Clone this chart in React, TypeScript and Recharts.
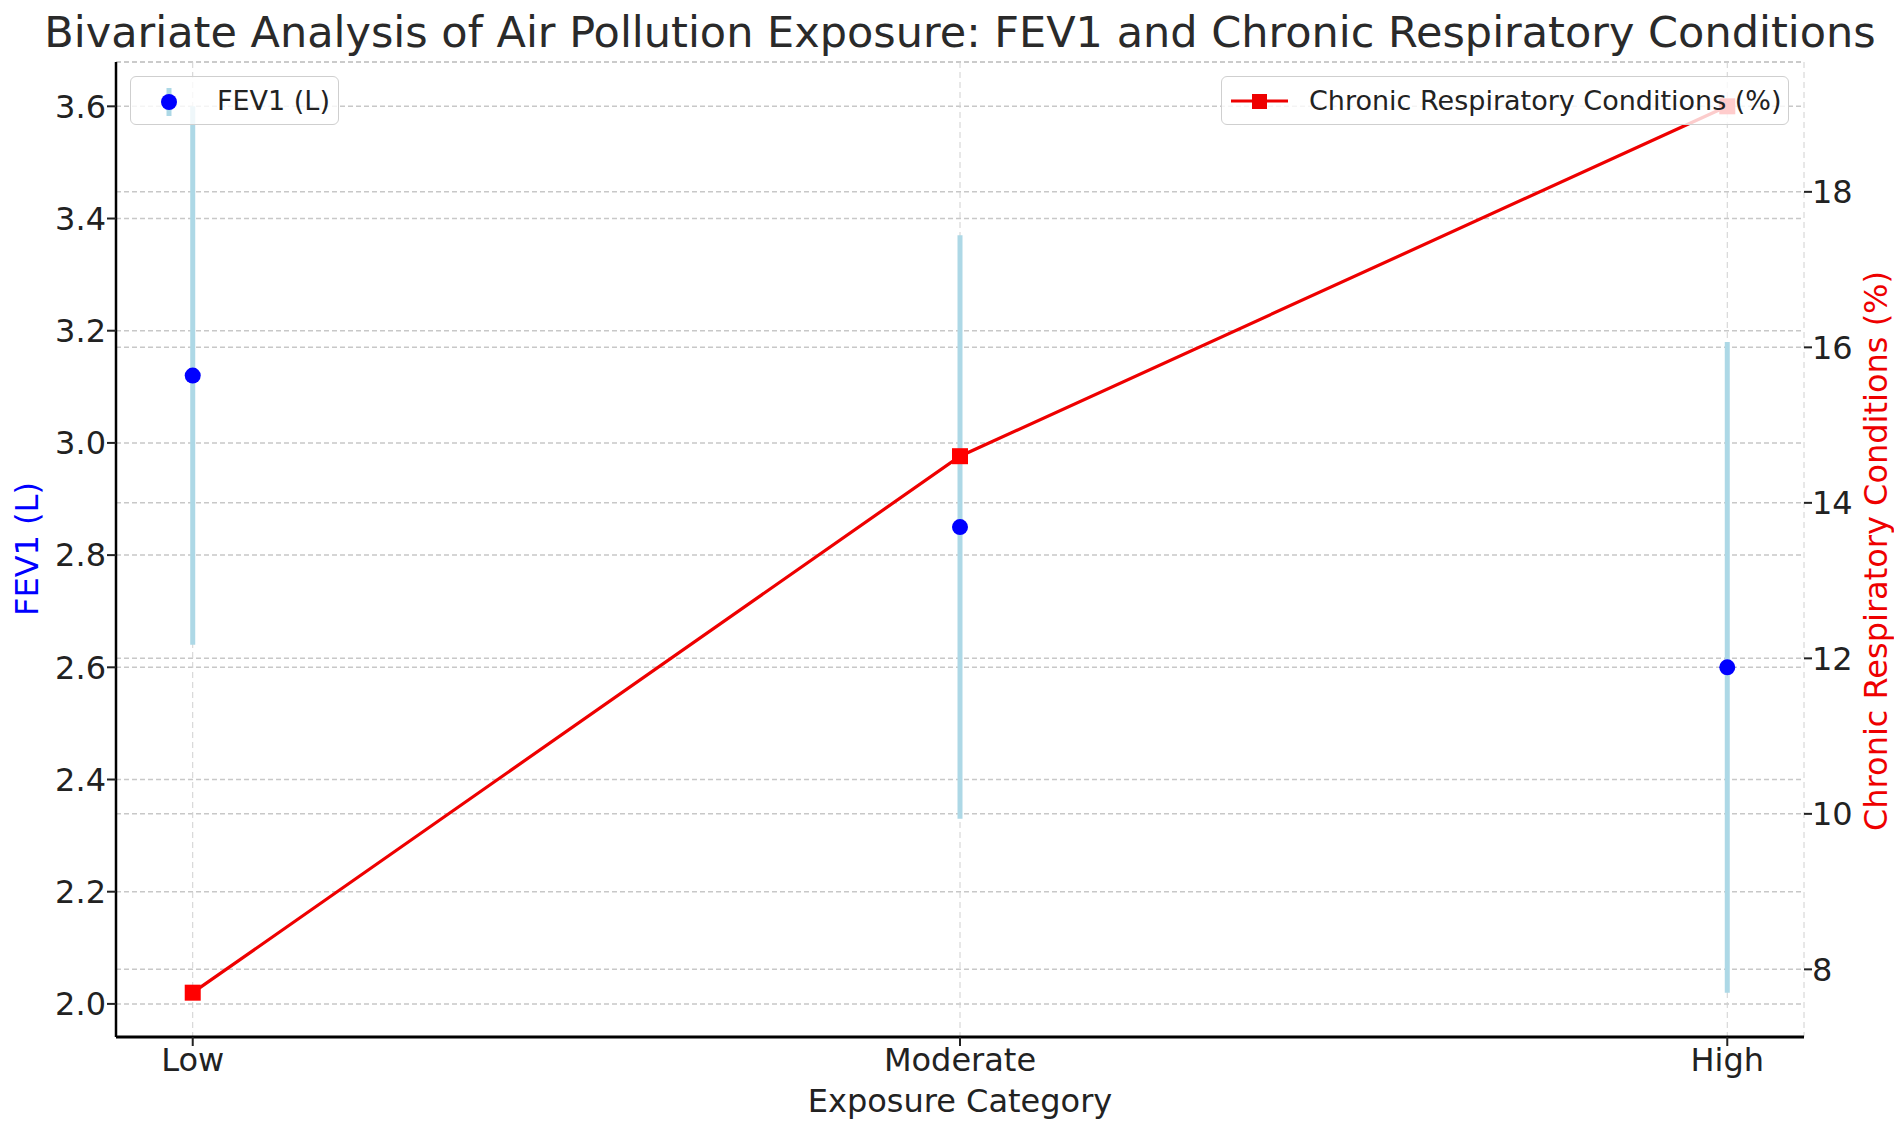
import React from 'react';
import {
  ComposedChart,
  XAxis,
  YAxis,
  CartesianGrid,
  Line,
  Scatter,
  ErrorBar,
} from 'recharts';

const categories = ['Low', 'Moderate', 'High'];
const fev1Values = [3.12, 2.85, 2.6];
const fev1Errors = [0.48, 0.52, 0.58];
const chronicValues = [7.7, 14.6, 19.1];
const fevTicks = [2.0, 2.2, 2.4, 2.6, 2.8, 3.0, 3.2, 3.4, 3.6];
const chronicTicks = [8, 10, 12, 14, 16, 18];
const categoryTicks = [0, 1, 2];

const data = categories.map((name, i) => ({
  x: i,
  name,
  fev1: fev1Values[i],
  err: fev1Errors[i],
  chronic: chronicValues[i],
}));

const W = 1894;
const H = 1123;
const FONT = '"DejaVu Sans", sans-serif';
const TEXT = '#222222';

const SquareDot = (props: any) => {
  const { cx, cy, index } = props;
  if (cx == null || cy == null) return null;
  return <rect key={`sq-${index}`} x={cx - 8} y={cy - 8} width={16} height={16} fill="#ff0000" />;
};

const CircleShape = (props: any) => {
  const { cx, cy } = props;
  if (cx == null || cy == null) return null;
  return <circle cx={cx} cy={cy} r={8} fill="#0000ff" />;
};

const legendBox: React.CSSProperties = {
  position: 'absolute',
  boxSizing: 'border-box',
  border: '1.5px solid #cfcfcf',
  borderRadius: 6,
  background: 'rgba(255,255,255,0.8)',
  fontFamily: FONT,
  fontSize: 27,
  color: TEXT,
  display: 'flex',
  alignItems: 'center',
};

export default function App() {
  return (
    <div style={{ position: 'relative', width: W, height: H, background: '#fff' }}>
      <ComposedChart
        width={W}
        height={H}
        data={data}
        margin={{ top: 54, right: 0, bottom: 0, left: 0 }}
      >
        <CartesianGrid
          yAxisId="left"
          vertical={false}
          stroke="#c8c8c8"
          strokeDasharray="5 3"
          strokeWidth={1.5}
        />
        <CartesianGrid
          yAxisId="right"
          vertical={false}
          stroke="#c8c8c8"
          strokeDasharray="5 3"
          strokeWidth={1.5}
        />
        <CartesianGrid
          yAxisId="left"
          horizontal={false}
          stroke="#d0d0d0"
          strokeDasharray="6 4"
          strokeWidth={1}
        />
        <XAxis
          dataKey="x"
          type="number"
          domain={[-0.1, 2.1]}
          ticks={categoryTicks}
          allowDataOverflow
          tickFormatter={(v: number) => categories[v] ?? ''}
          height={94}
          axisLine={{ stroke: '#000', strokeWidth: 3 }}
          tickLine={{ stroke: TEXT, strokeWidth: 2 }}
          tickSize={9}
          tickMargin={2}
          tick={{ fill: TEXT, fontSize: 32, fontFamily: FONT }}
        />
        <YAxis
          yAxisId="left"
          orientation="left"
          type="number"
          domain={[1.941, 3.679]}
          ticks={fevTicks}
          allowDataOverflow
          width={108}
          tickFormatter={(v: number) => v.toFixed(1)}
          axisLine={{ stroke: '#000', strokeWidth: 2.5 }}
          tickLine={{ stroke: TEXT, strokeWidth: 2 }}
          tickSize={9}
          tickMargin={1}
          tick={{ fill: TEXT, fontSize: 32, fontFamily: FONT }}
        />
        <YAxis
          yAxisId="right"
          orientation="right"
          type="number"
          domain={[7.13, 19.67]}
          ticks={chronicTicks}
          allowDataOverflow
          width={98}
          axisLine={false}
          tickLine={{ stroke: TEXT, strokeWidth: 2 }}
          tickSize={8}
          tickMargin={0}
          tick={{ fill: TEXT, fontSize: 32, fontFamily: FONT }}
        />
        <Scatter
          yAxisId="left"
          dataKey="fev1"
          fill="#0000ff"
          shape={CircleShape}
          isAnimationActive={false}
        >
          <ErrorBar
            dataKey="err"
            direction="y"
            width={0}
            stroke="#add8e6"
            strokeWidth={5}
            isAnimationActive={false}
          />
        </Scatter>
        <Line
          yAxisId="right"
          dataKey="chronic"
          stroke="#ee0000"
          strokeWidth={3.2}
          dot={SquareDot}
          activeDot={false}
          isAnimationActive={false}
        />
      </ComposedChart>

      <svg
        width={W}
        height={H}
        style={{ position: 'absolute', left: 0, top: 0, pointerEvents: 'none' }}
      >
        <text x={952} y={39} textAnchor="middle" fontFamily={FONT} fontSize={43} fill="#2a2a2a">
          Bivariate Analysis of Air Pollution Exposure: FEV1 and Chronic Respiratory Conditions
        </text>
        <text x={952} y={1104} textAnchor="middle" fontFamily={FONT} fontSize={32} fill={TEXT}>
          Exposure Category
        </text>
        <text
          x={30}
          y={541}
          textAnchor="middle"
          fontFamily={FONT}
          fontSize={32}
          fill="#0000ff"
          transform="rotate(-90 30 541)"
        >
          FEV1 (L)
        </text>
        <text
          x={1879}
          y={543}
          textAnchor="middle"
          fontFamily={FONT}
          fontSize={32}
          fill="#ee0000"
          transform="rotate(-90 1879 543)"
        >
          Chronic Respiratory Conditions (%)
        </text>
      </svg>

      <div style={{ ...legendBox, left: 122, top: 68, width: 209, height: 49 }}>
        <svg width={86} height={46} style={{ flex: 'none' }}>
          <line x1={38} y1={10} x2={38} y2={38} stroke="#add8e6" strokeWidth={5} />
          <circle cx={38} cy={24} r={8} fill="#0000ff" />
        </svg>
        <span>FEV1 (L)</span>
      </div>

      <div style={{ ...legendBox, left: 1213, top: 68, width: 568, height: 49 }}>
        <svg width={87} height={46} style={{ flex: 'none' }}>
          <line x1={9} y1={23} x2={66} y2={23} stroke="#ee0000" strokeWidth={3.2} />
          <rect x={30} y={16} width={15} height={15} fill="#ee0000" />
        </svg>
        <span>Chronic Respiratory Conditions (%)</span>
      </div>
    </div>
  );
}
